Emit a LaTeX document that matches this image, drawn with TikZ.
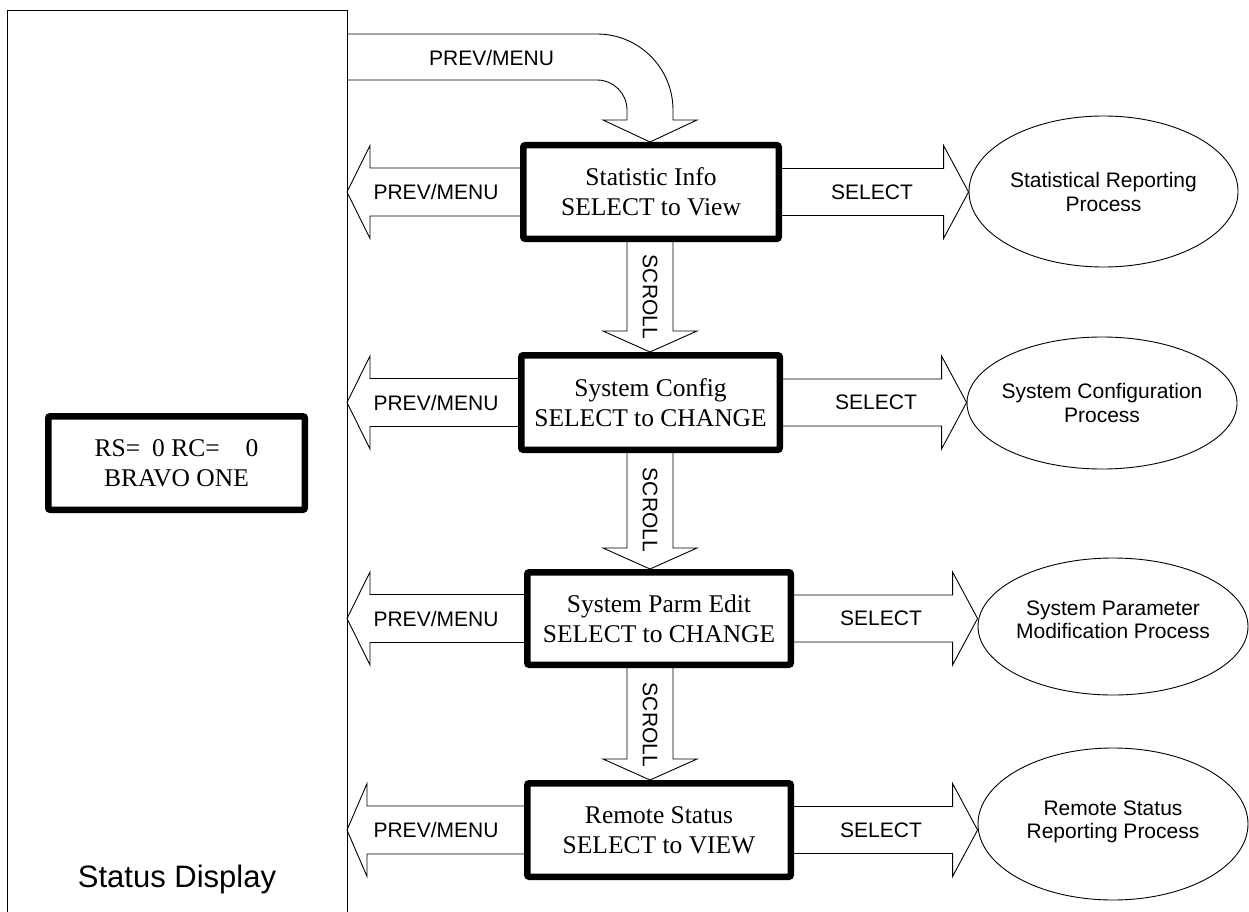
\documentclass[tikz,border=0pt]{standalone}
\usepackage{fontspec}
\setmainfont{Liberation Serif}
\newfontfamily\lsans{Liberation Sans}
\usetikzlibrary{calc,shapes.geometric}
\newcommand\prevarr[2]{%
  \draw[conn] ($(#1.west)+(0,-24)$) -- ($(#1.west-|#2)+(0,-24)$) -- ($(#1.west-|#2)+(0,-46.5)$)
    -- (#1.west-|sdR) -- ($(#1.west-|#2)+(0,46.5)$) -- ($(#1.west-|#2)+(0,24)$) -- ($(#1.west)+(0,24)$);}
\newcommand\selarr[2]{%
  \draw[conn] ($(#1.east)+(0,-23.5)$) -- ($(#1.east-|#2.west)+(-25,-23.5)$) -- ($(#1.east-|#2.west)+(-25,-46.5)$)
    -- (#1.east-|#2.west) -- ($(#1.east-|#2.west)+(-25,46.5)$) -- ($(#1.east-|#2.west)+(-25,23.5)$) -- ($(#1.east)+(0,23.5)$);}
\newcommand\scrollarr[2]{%
  \draw[conn] ($(#1.south-|scx)+(-23,0)$) -- ($(#2.north-|scx)+(-23,-21)$) -- ($(#2.north-|scx)+(-47,-21)$)
    -- (#2.north-|scx) -- ($(#2.north-|scx)+(47,-21)$) -- ($(#2.north-|scx)+(23,-21)$) -- ($(#1.south-|scx)+(23,0)$);}
\begin{document}
\begin{tikzpicture}[x=1pt,y=-1pt,
  conn/.style={draw=black,line width=0.9pt,line join=miter},
  menubox/.style={draw=black,line width=6.5pt,rounded corners=2pt,fill=white,align=center,inner sep=0pt,
    font=\fontsize{25.5}{30}\selectfont},
  proc/.style={ellipse,draw=black,line width=0.9pt,inner sep=0pt},
  proctext/.style={align=center,inner sep=0pt,font=\lsans\fontsize{21}{23.5}\selectfont},
  lbl/.style={font=\lsans\fontsize{21}{24}\selectfont,inner sep=0pt},
]
\useasboundingbox (0,0) rectangle (1249,912);
% status display frame
\draw[conn] (7,915) -- (7,10) -- (347,10) -- (347,915);
\coordinate (sdR) at (347,0);
\coordinate (lhbA) at (370,0);
\coordinate (lhbB) at (367,0);
\coordinate (scx) at (650,0);
\node[font=\lsans\fontsize{31}{36}\selectfont,inner sep=0pt] (sdlabel) at (177,879) {Status Display};
\node[menubox,minimum width=256.5,minimum height=93.5] (disp) at (176.5,463)
  {RS=\hspace{12pt}0 RC=\hspace{26pt}0\\BRAVO ONE};

% menu boxes
\node[menubox,minimum width=255.5,minimum height=93.5] (b1) at (651,192) {Statistic Info\\SELECT to View};
\node[menubox,minimum width=258.5,minimum height=94.5] (b2) at (650.5,402.5) {System Config\\SELECT to CHANGE};
\node[menubox,minimum width=263.5,minimum height=92.5] (b3) at (659,618.5) {System Parm Edit\\SELECT to CHANGE};
\node[menubox,minimum width=263.5,minimum height=93.5] (b4) at (659,830) {Remote Status\\SELECT to VIEW};

% process ellipses
\node[proc,minimum width=269,minimum height=151] (e1) at (1103.5,191.5) {};
\node[proc,minimum width=270,minimum height=132] (e2) at (1102,403) {};
\node[proc,minimum width=270,minimum height=137] (e3) at (1113,626.5) {};
\node[proc,minimum width=270,minimum height=152] (e4) at (1113,824) {};
\node[proctext] (t1) at (1103.5,192) {Statistical Reporting\\Process};
\node[proctext] (t2) at (1102,403) {System Configuration\\Process};
\node[proctext] (t3) at (1113,620) {System Parameter\\Modification Process};
\node[proctext] (t4) at (1113,822) {Remote Status\\Reporting Process};

% top curved arrow
\draw[conn] (sdR|-0,34) -- (597,34) arc[start angle=-90,end angle=0,radius=76] -- (673,120) -- (697,120)
  -- (b1.north-|scx) -- (603,120) -- (627,120) -- (627,110) arc[start angle=0,end angle=-90,radius=30] -- (sdR|-0,80);
\node[lbl] (ltop) at (491.5,58) {PREV/MENU};

% left arrows
\prevarr{b1}{lhbA}
\prevarr{b2}{lhbA}
\prevarr{b3}{lhbA}
\prevarr{b4}{lhbB}
\node[lbl] (lp1) at (436,192) {PREV/MENU};
\node[lbl] (lp2) at (436,402.5) {PREV/MENU};
\node[lbl] (lp3) at (436,618.5) {PREV/MENU};
\node[lbl] (lp4) at (436,830) {PREV/MENU};

% right arrows
\selarr{b1}{e1}
\selarr{b2}{e2}
\selarr{b3}{e3}
\selarr{b4}{e4}
\node[lbl] (ls1) at (872,192) {SELECT};
\node[lbl] (ls2) at (876,402.5) {SELECT};
\node[lbl] (ls3) at (881,618.5) {SELECT};
\node[lbl] (ls4) at (881,830) {SELECT};

% scroll arrows
\scrollarr{b1}{b2}
\scrollarr{b2}{b3}
\scrollarr{b3}{b4}
\node[lbl,rotate=-90] (sc1) at (650,297) {SCROLL};
\node[lbl,rotate=-90] (sc2) at (650,510) {SCROLL};
\node[lbl,rotate=-90] (sc3) at (650,725) {SCROLL};
\end{tikzpicture}
\end{document}
